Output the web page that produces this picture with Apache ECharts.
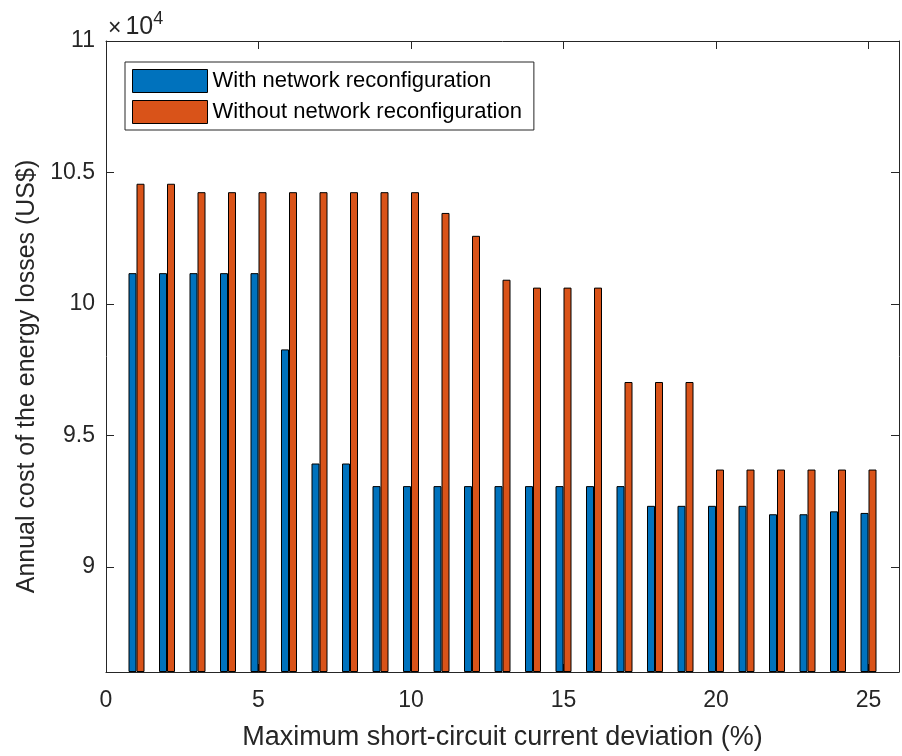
<!DOCTYPE html>
<html>
<head>
<meta charset="utf-8">
<script src="https://cdn.jsdelivr.net/npm/echarts@6/dist/echarts.min.js"></script>
<style>
html,body{margin:0;padding:0;background:#fff;}
#chart{width:902px;height:756px;}
</style>
</head>
<body>
<div id="chart"></div>
<script>
// Data (US$)
const deviations = [1,2,3,4,5,6,7,8,9,10,11,12,13,14,15,16,17,18,19,20,21,22,23,24,25];
const withReconfig = [101170,101170,101170,101170,101170,98270,93930,93930,93070,93070,93070,93070,93070,93070,93070,93070,93070,92320,92320,92320,92320,92000,92000,92110,92050];
const withoutReconfig = [104570,104570,104250,104250,104250,104250,104250,104250,104250,104250,103460,102590,100920,100620,100620,100620,97030,97030,97030,93700,93700,93700,93700,93700,93700];
const xTicks = [0,5,10,15,20,25];
const yTicks = [90000,95000,100000,105000,110000];
const seriesNames = ['With network reconfiguration','Without network reconfiguration'];

const FONT = "'Liberation Sans', Arial, Helvetica, sans-serif";
const AX = '#262626';

const chart = echarts.init(document.getElementById('chart'), null, {renderer:'canvas'});
const pairs = (arr) => deviations.map((d,i)=>[d, arr[i]]);

const option = {
  animation: false,
  backgroundColor: '#ffffff',
  textStyle: {fontFamily: FONT},
  grid: {left: 106, top: 41, bottom: 83, right: -6, containLabel: false},
  legend: {
    orient: 'vertical',
    left: 125, top: 62,
    data: seriesNames.map(n => ({name: n, icon: 'rect'})),
    itemWidth: 75, itemHeight: 23, itemGap: 7,
    padding: [7, 12, 6, 7],
    borderColor: AX, borderWidth: 1,
    backgroundColor: '#fff',
    textStyle: {fontSize: 22, color: '#000', fontFamily: FONT},
    itemStyle: {borderColor: '#000', borderWidth: 1},
    selectedMode: false
  },
  xAxis: [{
    type: 'value', min: 0, max: 26, interval: 5,
    name: 'Maximum short-circuit current deviation (%)',
    nameLocation: 'middle', nameGap: 52,
    nameTextStyle: {fontSize: 27, color: AX, fontFamily: FONT},
    axisLine: {show: true, lineStyle: {color: AX, width: 1}},
    axisTick: {show: true, inside: true, length: 8, lineStyle: {color: AX}},
    axisLabel: {fontSize: 23, color: AX, margin: 17, fontFamily: FONT,
      formatter: v => xTicks.indexOf(v) >= 0 ? String(v) : ''},
    splitLine: {show: false}
  },{
    type: 'value', min: 0, max: 26, interval: 5, position: 'top',
    axisLine: {show: true, onZero: false, lineStyle: {color: AX, width: 1}},
    axisTick: {show: true, inside: true, length: 8, lineStyle: {color: AX}},
    axisLabel: {show: false},
    splitLine: {show: false}
  }],
  yAxis: [{
    type: 'value', min: 86000, max: 110000, minInterval: 5000, maxInterval: 5000, splitNumber: 5,
    startValue: 86000,
    name: '{x|×}{b|10}{s|4}',
    nameLocation: 'end', nameGap: 1,
    nameTextStyle: {align: 'left', verticalAlign: 'bottom', color: AX, fontFamily: FONT,
      rich: {
        x: {fontSize: 23, lineHeight: 30, verticalAlign: 'bottom', color: AX, fontFamily: FONT, padding: [0,4,0,2]},
        b: {fontSize: 25, lineHeight: 30, verticalAlign: 'bottom', color: AX, fontFamily: FONT},
        s: {fontSize: 18, lineHeight: 16, verticalAlign: 'top', color: AX, fontFamily: FONT}
      }},
    axisLine: {show: true, lineStyle: {color: AX, width: 1}},
    axisTick: {show: true, inside: true, length: 8, lineStyle: {color: AX}},
    axisLabel: {fontSize: 23, color: AX, margin: 11, fontFamily: FONT,
      formatter: v => yTicks.indexOf(v) >= 0 ? String(v/10000) : ''},
    splitLine: {show: false}
  },{
    type: 'value', min: 86000, max: 110000, minInterval: 5000, maxInterval: 5000, splitNumber: 5,
    position: 'right',
    axisLine: {show: true, onZero: false, lineStyle: {color: AX, width: 1}},
    axisTick: {show: true, inside: true, length: 8, lineStyle: {color: AX}},
    axisLabel: {show: false},
    splitLine: {show: false}
  },{
    type: 'value', min: 86000, max: 110000, position: 'left', offset: 0,
    name: 'Annual cost of the energy losses (US$)',
    nameLocation: 'middle', nameGap: 66,
    nameTextStyle: {fontSize: 25, color: AX, fontFamily: FONT, padding: [0, 40, 0, 0]},
    axisLine: {show: false}, axisTick: {show: false}, axisLabel: {show: false}, splitLine: {show: false}
  }],
  series: [{
    name: seriesNames[0], type: 'bar', xAxisIndex: 0, yAxisIndex: 0,
    data: pairs(withReconfig),
    barWidth: 8, barGap: '0%',
    itemStyle: {color: '#0072BD', borderColor: '#000', borderWidth: 1},
    clip: true
  },{
    name: seriesNames[1], type: 'bar', xAxisIndex: 0, yAxisIndex: 0,
    data: pairs(withoutReconfig),
    barWidth: 8, barGap: '0%',
    itemStyle: {color: '#D95319', borderColor: '#000', borderWidth: 1},
    clip: true
  }]
};
chart.setOption(option);
</script>
</body>
</html>
